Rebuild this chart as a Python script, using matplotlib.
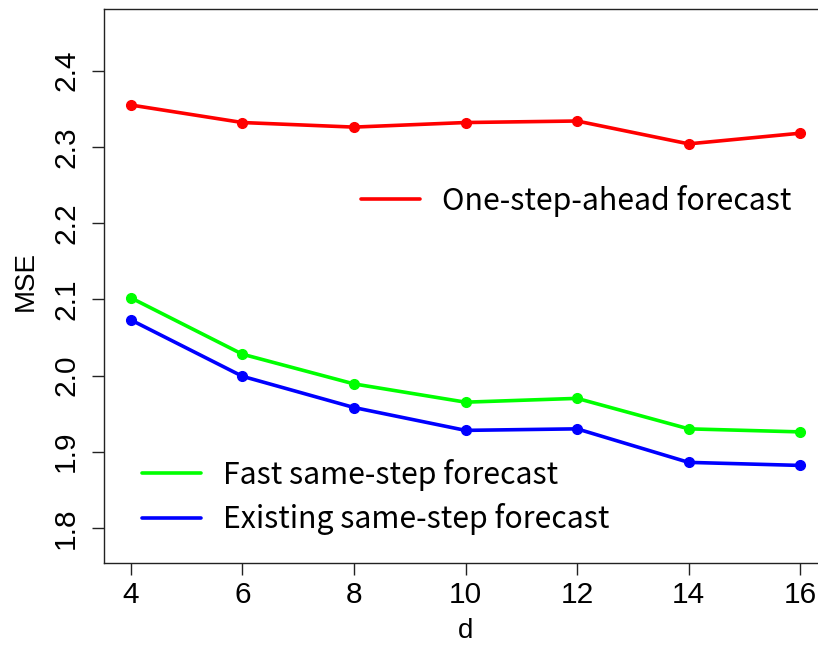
import numpy as np
import matplotlib.pyplot as plt

# datos
d = [4, 6, 8, 10, 12, 14, 16]
mse_one_step = [2.355, 2.332, 2.326, 2.332, 2.334, 2.304, 2.318]
mse_fast = [2.102, 2.028, 1.989, 1.965, 1.970, 1.930, 1.926]
mse_existing = [2.073, 1.999, 1.958, 1.928, 1.930, 1.886, 1.882]

yticks = [1.8, 1.9, 2.0, 2.1, 2.2, 2.3, 2.4]
xticks = [4, 6, 8, 10, 12, 14, 16]

plt.rcParams['font.family'] = ['Liberation Sans', 'DejaVu Sans']

fig = plt.figure(figsize=(8.18, 6.45), dpi=100)
# el eje derecho queda fuera de la imagen, como en el original
ax = fig.add_axes([104 / 818, 82.5 / 645, 723 / 818, 553.2 / 645])

l1, = ax.plot(d, mse_one_step, color='#ff0000', lw=2.6, marker='o', ms=7,
              solid_capstyle='round')
l2, = ax.plot(d, mse_fast, color='#00ff00', lw=2.6, marker='o', ms=7,
              solid_capstyle='round')
l3, = ax.plot(d, mse_existing, color='#0000ff', lw=2.6, marker='o', ms=7,
              solid_capstyle='round')

ax.set_xlim(3.52, 16.48)
ax.set_ylim(1.7546, 2.4806)
ax.set_xticks(xticks)
ax.set_xticklabels([str(v) for v in xticks])
ax.set_yticks(yticks)
ax.set_yticklabels(['{:.1f}'.format(v) for v in yticks])

for s in ax.spines.values():
    s.set_linewidth(1.0)
    s.set_color('#222222')

ax.tick_params(axis='both', direction='out', length=8.6, width=1.0,
               color='#222222', labelsize=21.5)
ax.tick_params(axis='x', pad=4.5)
ax.tick_params(axis='y', pad=8.6)
for lab in ax.get_yticklabels():
    lab.set_rotation(90)
    lab.set_va('center')

ax.set_xlabel('d', fontsize=20)
ax.set_ylabel('MSE', fontsize=20)
ax.xaxis.set_label_coords(0.5, -0.101)
ax.yaxis.set_label_coords(-0.09, 0.509)

leg_font = {'family': ['Noto Sans CJK JP', 'DejaVu Sans'], 'size': 21.8}

leg1 = ax.legend([l1], ['One-step-ahead forecast'], loc='center left',
                 bbox_to_anchor=(0.3555, 0.6535), frameon=False,
                 borderpad=0, borderaxespad=0, handlelength=1.95,
                 handletextpad=0.72, prop=leg_font)
for h in leg1.get_lines():
    h.set_marker('')
ax.add_artist(leg1)

leg2 = ax.legend([l2, l3], ['Fast same-step forecast',
                            'Existing same-step forecast'],
                 loc='center left', bbox_to_anchor=(0.0526, 0.1184),
                 frameon=False, borderpad=0, borderaxespad=0,
                 handlelength=1.95, handletextpad=0.72, labelspacing=0.42,
                 prop=leg_font)
for h in leg2.get_lines():
    h.set_marker('')

fig.savefig('out.png', dpi=100)
